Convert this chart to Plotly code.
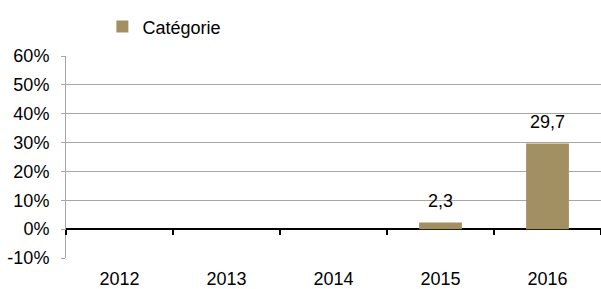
import plotly.graph_objects as go

years = ["2012", "2013", "2014", "2015", "2016"]
values = [None, None, None, 2.3, 29.7]
series_name = "Catégorie"
y_ticks = [-10, 0, 10, 20, 30, 40, 50, 60]
y_tick_text = ["-10%", "0%", "10%", "20%", "30%", "40%", "50%", "60%"]

bar_color = "#A39062"
grid = "#A6A6A6"
font = dict(family="Liberation Sans, Arial, sans-serif", size=18, color="#000000")

fig = go.Figure()
fig.add_trace(go.Bar(x=years, y=values, name=series_name, marker_color=bar_color,
                     marker_line_width=0, xaxis="x", yaxis="y"))
# value labels
fig.add_trace(go.Scatter(x=years, y=values, mode="markers+text",
                         text=[None if v is None else f"{v:.1f}".replace(".", ",") for v in values],
                         textposition="top center", marker=dict(size=16, opacity=0),
                         textfont=font, showlegend=False, hoverinfo="skip", xaxis="x", yaxis="y"))
# invisible trace for the zero-line tick axis
fig.add_trace(go.Bar(x=years, y=[0]*len(years), showlegend=False, opacity=0,
                     hoverinfo="skip", xaxis="x2", yaxis="y"))

fig.update_layout(
    width=601, height=289,
    margin=dict(l=66, r=0, t=56, b=31),
    paper_bgcolor="white", plot_bgcolor="white",
    font=font,
    bargap=0.6,
    showlegend=True,
    legend=dict(x=0.068, y=1.144, xanchor="left", yanchor="middle", orientation="h",
                font=font, bgcolor="rgba(0,0,0,0)", itemwidth=30),
    xaxis=dict(type="category", categoryorder="array", categoryarray=years,
               showgrid=False, showline=False, zeroline=False,
               ticks="", ticklabelstandoff=8, automargin=False, range=[-0.5, 4.5],
               tickfont=font),
    xaxis2=dict(type="category", categoryorder="array", categoryarray=years,
                overlaying="x", anchor="free", position=1/7, matches="x",
                showticklabels=False, showgrid=False, showline=False, zeroline=False,
                ticks="outside", tickson="boundaries", ticklen=5, tickwidth=2,
                tickcolor="#000000"),
    yaxis=dict(range=[-10, 60], tickmode="array", tickvals=y_ticks, ticktext=y_tick_text,
               showgrid=True, gridcolor=grid, gridwidth=1,
               zeroline=True, zerolinecolor="#000000", zerolinewidth=2,
               showline=True, linecolor=grid, linewidth=1,
               ticks="outside", ticklen=4, tickcolor=grid,
               ticklabelstandoff=8, automargin=False, tickfont=font),
)

fig.write_html("out.html", config={"displayModeBar": False},
               post_script="document.body.style.margin='0';")
